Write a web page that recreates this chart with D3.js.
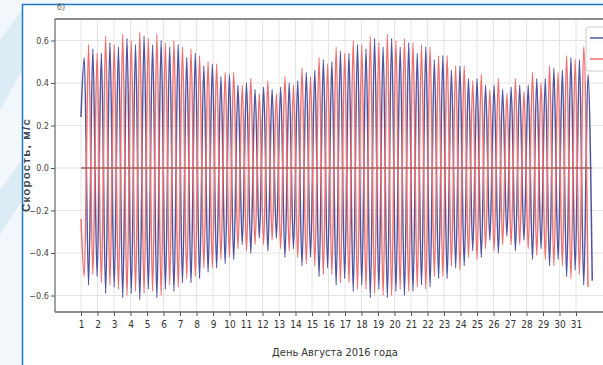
<!DOCTYPE html>
<html>
<head>
<meta charset="utf-8">
<script src="https://cdn.jsdelivr.net/npm/d3@7"></script>
<style>
  html, body { margin: 0; padding: 0; background: #f3f8fb; }
  svg { display: block; }
  text { font-family: "Liberation Sans Narrow", "DejaVu Sans Condensed", "Liberation Sans", sans-serif; }
</style>
</head>
<body>
<svg id="chart" width="603" height="365"></svg>
<script>
// days of August on the x axis
var dayTicks = [1, 2, 3, 4, 5, 6, 7, 8, 9, 10, 11, 12, 13, 14, 15, 16, 17, 18, 19, 20,
  21, 22, 23, 24, 25, 26, 27, 28, 29, 30, 31];
var speedTicks = [-0.6, -0.4, -0.2, 0.0, 0.2, 0.4, 0.6];
var speedTickLabels = ["\u22120.6", "\u22120.4", "\u22120.2", "0.0", "0.2", "0.4", "0.6"];

// series start, then successive extremes (peak / trough) every half tidal cycle
var startDay = 1.0;
var firstExtremeDay = 1.2;
var halfCycleDays = 0.2587;

var blueStart = 0.24;
var blueVel = [
  0.52, -0.55, 0.56, -0.51, 0.54, -0.59, 0.59, -0.56, 0.57, -0.61,
  0.61, -0.59, 0.58, -0.62, 0.62, -0.57, 0.58, -0.61, 0.60, -0.57,
  0.57, -0.58, 0.58, -0.54, 0.52, -0.54, 0.54, -0.52, 0.48, -0.49,
  0.49, -0.47, 0.43, -0.45, 0.44, -0.43, 0.39, -0.36, 0.40, -0.40,
  0.37, -0.33, 0.38, -0.39, 0.37, -0.33, 0.38, -0.42, 0.40, -0.38,
  0.41, -0.46, 0.45, -0.42, 0.46, -0.51, 0.51, -0.47, 0.50, -0.55,
  0.55, -0.52, 0.54, -0.58, 0.58, -0.55, 0.56, -0.61, 0.61, -0.57,
  0.57, -0.61, 0.61, -0.58, 0.57, -0.60, 0.59, -0.58, 0.54, -0.55,
  0.57, -0.56, 0.51, -0.52, 0.53, -0.52, 0.46, -0.47, 0.48, -0.46,
  0.42, -0.39, 0.42, -0.42, 0.39, -0.34, 0.39, -0.40, 0.37, -0.32,
  0.38, -0.39, 0.39, -0.34, 0.39, -0.43, 0.42, -0.38, 0.42, -0.46,
  0.47, -0.43, 0.46, -0.51, 0.52, -0.48, 0.51, -0.55, 0.44, -0.53
];

var redStart = -0.24;
var redVel = [
  -0.51, 0.58, -0.50, 0.54, -0.54, 0.62, -0.55, 0.58, -0.57, 0.63,
  -0.60, 0.60, -0.58, 0.64, -0.59, 0.61, -0.58, 0.63, -0.60, 0.59,
  -0.55, 0.60, -0.56, 0.57, -0.52, 0.56, -0.51, 0.53, -0.47, 0.50,
  -0.47, 0.49, -0.43, 0.45, -0.42, 0.45, -0.38, 0.39, -0.39, 0.42,
  -0.36, 0.35, -0.36, 0.41, -0.34, 0.35, -0.38, 0.43, -0.39, 0.39,
  -0.42, 0.47, -0.45, 0.43, -0.46, 0.52, -0.50, 0.49, -0.50, 0.57,
  -0.54, 0.54, -0.54, 0.60, -0.57, 0.58, -0.57, 0.62, -0.59, 0.59,
  -0.60, 0.63, -0.60, 0.60, -0.57, 0.61, -0.58, 0.59, -0.56, 0.58,
  -0.57, 0.57, -0.51, 0.53, -0.51, 0.53, -0.46, 0.48, -0.48, 0.48,
  -0.42, 0.41, -0.43, 0.44, -0.38, 0.37, -0.39, 0.42, -0.36, 0.35,
  -0.36, 0.42, -0.36, 0.36, -0.38, 0.45, -0.41, 0.40, -0.43, 0.48,
  -0.46, 0.45, -0.46, 0.53, -0.52, 0.51, -0.50, 0.57, -0.56
];

var meanLevel = 0.0;

var svg = d3.select("#chart"),
  plot = { left: 55, top: 19, right: 603, bottom: 312 };

// background outside the framed figure
svg.append("rect").attr("width", 603).attr("height", 365).attr("fill", "#f1f7fa");
svg.append("path")
  .attr("d", "M0,40 L22,10 L22,70 L0,110 Z M0,190 L22,160 L22,200 L0,235 Z")
  .attr("fill", "#dcecf4");
svg.append("rect").attr("x", 22).attr("y", 4).attr("width", 581).attr("height", 361).attr("fill", "#fff");
svg.append("line").attr("x1", 22).attr("y1", 4.5).attr("x2", 603).attr("y2", 4.5)
  .attr("stroke", "#1f78cf").attr("stroke-width", 1.5);
svg.append("line").attr("x1", 22.5).attr("y1", 4).attr("x2", 22.5).attr("y2", 365)
  .attr("stroke", "#1f78cf").attr("stroke-width", 1.5);

svg.append("text").attr("x", 57).attr("y", 10)
  .attr("font-size", 9).attr("fill", "#666").text("б)");

var x = d3.scaleLinear().domain([1, 31]).range([81, 576]);
var y = d3.scaleLinear().domain([-0.6, 0.6]).range([295.5, 40.5]);

svg.append("clipPath").attr("id", "clip")
  .append("rect").attr("x", plot.left).attr("y", plot.top)
  .attr("width", plot.right - plot.left).attr("height", plot.bottom - plot.top);

// grid
var grid = svg.append("g").attr("clip-path", "url(#clip)");
grid.selectAll(".vgrid").data(dayTicks).enter().append("line")
  .attr("x1", function (d) { return x(d); }).attr("x2", function (d) { return x(d); })
  .attr("y1", plot.top).attr("y2", plot.bottom)
  .attr("stroke", "#e4e4e4").attr("stroke-width", 1);
grid.selectAll(".hgrid").data(speedTicks).enter().append("line")
  .attr("x1", plot.left).attr("x2", plot.right)
  .attr("y1", function (d) { return y(d); }).attr("y2", function (d) { return y(d); })
  .attr("stroke", "#e4e4e4").attr("stroke-width", 1);

function toPoints(start, vals) {
  return [{ day: startDay, v: start }].concat(vals.map(function (v, i) {
    return { day: firstExtremeDay + i * halfCycleDays, v: v };
  }));
}

var line = d3.line()
  .x(function (d) { return x(d.day); })
  .y(function (d) { return y(d.v); })
  .curve(d3.curveMonotoneX);

var bluePts = toPoints(blueStart, blueVel),
  redPts = toPoints(redStart, redVel);

var series = svg.append("g").attr("clip-path", "url(#clip)");
series.append("path").datum(bluePts)
  .attr("fill", "none").attr("stroke", "#4f54a0").attr("stroke-width", 1.5)
  .attr("d", line);
series.append("path").datum(redPts)
  .attr("fill", "none").attr("stroke", "#f07070").attr("stroke-width", 1.5)
  .attr("d", line);

var lastDay = bluePts[bluePts.length - 1].day;
series.append("path").datum([{ day: startDay, v: meanLevel }, { day: lastDay, v: meanLevel }])
  .attr("fill", "none").attr("stroke", "#a8605a").attr("stroke-width", 1.6)
  .attr("d", d3.line().x(function (d) { return x(d.day); }).y(function (d) { return y(d.v); }));

// axes
var yAxis = svg.append("g")
  .attr("transform", "translate(" + plot.left + ",0)")
  .call(d3.axisLeft(y).tickValues(speedTicks).tickSize(4).tickPadding(2)
    .tickFormat(function (d, i) { return speedTickLabels[i]; }));
yAxis.select(".domain").remove();
yAxis.selectAll("text").attr("font-size", 9).attr("fill", "#444")
  .style("font-family", "'Liberation Sans Narrow', 'DejaVu Sans Condensed', sans-serif");
yAxis.selectAll("line").attr("stroke", "#555");

var xAxis = svg.append("g")
  .attr("transform", "translate(0," + plot.bottom + ")")
  .call(d3.axisBottom(x).tickValues(dayTicks).tickSize(4).tickPadding(5)
    .tickFormat(d3.format("d")));
xAxis.select(".domain").remove();
xAxis.selectAll("text").attr("font-size", 10).attr("fill", "#333")
  .style("font-family", "'Liberation Sans Narrow', 'DejaVu Sans Condensed', sans-serif");
xAxis.selectAll("line").attr("stroke", "#555");

// spines
svg.append("line").attr("x1", plot.left).attr("x2", plot.right)
  .attr("y1", plot.top).attr("y2", plot.top)
  .attr("stroke", "#8c8c8c").attr("stroke-width", 2);
svg.append("line").attr("x1", plot.left).attr("x2", plot.left)
  .attr("y1", plot.top).attr("y2", plot.bottom)
  .attr("stroke", "#666").attr("stroke-width", 1.2);
svg.append("line").attr("x1", plot.left).attr("x2", plot.right)
  .attr("y1", plot.bottom).attr("y2", plot.bottom)
  .attr("stroke", "#666").attr("stroke-width", 1.5);

// legend (cut off by the figure edge)
var legend = svg.append("g").attr("transform", "translate(586,27)");
legend.append("rect").attr("width", 40).attr("height", 44).attr("rx", 2)
  .attr("fill", "#fff").attr("fill-opacity", 0.8).attr("stroke", "#ccc");
legend.append("line").attr("x1", 4).attr("x2", 24).attr("y1", 11).attr("y2", 11)
  .attr("stroke", "#4f54a0").attr("stroke-width", 1.5);
legend.append("line").attr("x1", 4).attr("x2", 24).attr("y1", 32).attr("y2", 32)
  .attr("stroke", "#f07070").attr("stroke-width", 1.5);

// axis titles
svg.append("text").attr("x", 335).attr("y", 356).attr("text-anchor", "middle")
  .attr("font-size", 11).attr("fill", "#333").text("День Августа 2016 года");
svg.append("text")
  .attr("transform", "translate(30,165) rotate(-90)")
  .attr("text-anchor", "middle").attr("font-size", 11.5).attr("font-weight", "bold")
  .attr("letter-spacing", 1.2).attr("fill", "#3d4550")
  .style("font-family", "'Liberation Sans', 'DejaVu Sans', sans-serif")
  .text("Скорость, м/с");
</script>
</body>
</html>
